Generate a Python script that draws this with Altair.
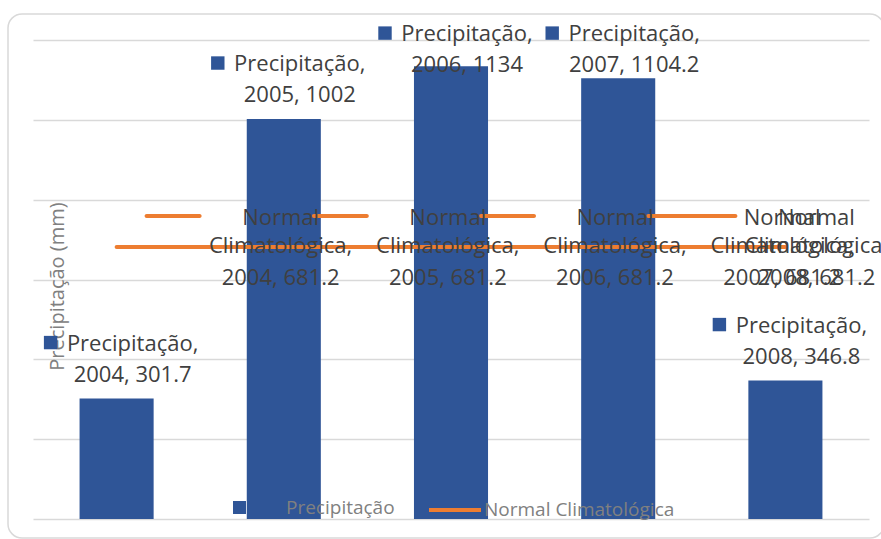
import altair as alt
import pandas as pd

# --- data -------------------------------------------------------------
anos = [2004, 2005, 2006, 2007, 2008]
precipitacao = [301.7, 1002, 1134, 1104.2, 346.8]
normal_climatologica = [681.2, 681.2, 681.2, 681.2, 681.2]
series = ["Precipitação", "Normal Climatológica"]
y_ticks = [0, 200, 400, 600, 800, 1000, 1200]

# --- style ------------------------------------------------------------
BLUE = "#2F5597"
ORANGE = "#ED7D31"
TEXT = "#404040"
MUTED = "#808080"
GRID = "#D9D9D9"
FONT = "Open Sans"
LABEL_SIZE = 22
# labels of very tall bars are kept inside the chart area
LABEL_CEILING = 1077

ultimo = str(anos[-1])
anos_txt = [str(a) for a in anos]

prec_df = pd.DataFrame({
    "ano": anos_txt,
    "valor": precipitacao,
    "serie": series[0],
})
prec_df["linha1"] = prec_df["serie"] + ","
prec_df["linha2"] = [f"{a}, {v:g}" for a, v in zip(anos, precipitacao)]

nome1, nome2 = series[1].split(" ", 1)
norm_df = pd.DataFrame({
    "ano": anos_txt,
    "valor": normal_climatologica,
    "serie": series[1],
})
norm_df["linha1"] = nome1
norm_df["linha2"] = nome2 + ","
norm_df["linha3"] = [f"{a}, {v:g}" for a, v in zip(anos, normal_climatologica)]

x_enc = alt.X(
    "ano:N",
    sort=anos_txt,
    scale=alt.Scale(paddingInner=0.557, paddingOuter=0.2785),
    axis=None,
)
y_axis = alt.Axis(
    values=y_ticks,
    labels=False,
    ticks=False,
    domain=False,
    grid=True,
    title="Precipitação (mm)",
    titleFont=FONT,
    titleFontSize=20,
    titleFontWeight="normal",
    titleColor=MUTED,
    titleAngle=270,
    titleX=24,
    titleY=246,
    titleAlign="center",
    titleBaseline="middle",
)
y_scale = alt.Scale(domain=[0, 1200], nice=False, zero=True)


def y_of(field):
    return alt.Y(f"{field}:Q", scale=y_scale, axis=y_axis)


# rounded outer frame of the chart
frame = alt.Chart(pd.DataFrame({"moldura": [0]})).mark_rect(
    fill="white", fillOpacity=0, stroke=GRID, strokeWidth=1.5, cornerRadius=14
).encode(
    x=alt.value(-25), x2=alt.value(851), y=alt.value(-26), y2=alt.value(498)
)

prec = alt.Chart(prec_df)
norm = alt.Chart(norm_df)

legend_text = dict(labelFont=FONT, labelFontSize=19, labelColor=MUTED,
                   labelLimit=400, padding=0, title=None, orient="none")

bars = prec.mark_bar().encode(
    x=x_enc,
    y=y_of("valor"),
    color=alt.Color(
        "serie:N",
        scale=alt.Scale(domain=[series[0]], range=[BLUE]),
        legend=alt.Legend(
            legendX=197, legendY=458,
            symbolType="square", symbolSize=169, symbolOpacity=1,
            labelOffset=37, **legend_text,
        ),
    ),
)

line = norm.mark_line(strokeWidth=4, strokeCap="round").encode(
    x=x_enc,
    y=y_of("valor"),
    color=alt.Color(
        "serie:N",
        scale=alt.Scale(domain=[series[1]], range=[ORANGE]),
        legend=alt.Legend(
            legendX=394, legendY=442,
            symbolType="stroke", symbolSize=2704, symbolStrokeWidth=4,
            labelOffset=1, **legend_text,
        ),
    ),
)

# data labels of the bars: legend key + "series," / "year, value"
prec_lbl = prec.transform_calculate(ancora=f"min(datum.valor, {LABEL_CEILING})")
bar_keys = prec_lbl.mark_square(
    size=180, filled=True, opacity=1, color=BLUE, xOffset=-66, yOffset=-56
).encode(x=x_enc, y=y_of("ancora"))
txt = dict(font=FONT, fontSize=LABEL_SIZE, color=TEXT, align="center", baseline="middle")
bar_l1 = prec_lbl.mark_text(dx=16, dy=-55, **txt).encode(
    x=x_enc, y=y_of("ancora"), text="linha1:N"
)
bar_l2 = prec_lbl.mark_text(dx=16, dy=-24, **txt).encode(
    x=x_enc, y=y_of("ancora"), text="linha2:N"
)


# data labels of the climatological normal (the last one is pushed back inside)
def normal_labels(chart, key_dx, text_dx):
    key = chart.mark_tick(
        size=57, thickness=4, cornerRadius=2, opacity=1, color=ORANGE,
        xOffset=key_dx, yOffset=-31,
    ).encode(x=x_enc, y=y_of("valor"))
    l1 = chart.mark_text(dx=text_dx, dy=-29, **txt).encode(
        x=x_enc, y=y_of("valor"), text="linha1:N")
    l2 = chart.mark_text(dx=text_dx, dy=-1, **txt).encode(
        x=x_enc, y=y_of("valor"), text="linha2:N")
    l3 = chart.mark_text(dx=text_dx, dy=31, **txt).encode(
        x=x_enc, y=y_of("valor"), text="linha3:N")
    return [key, l1, l2, l3]


norm_main = norm.transform_filter(alt.datum.ano != ultimo)
norm_last = norm.transform_filter(alt.datum.ano == ultimo)

chart = alt.layer(
    frame, bars, line, bar_keys, bar_l1, bar_l2,
    *normal_labels(norm_main, 56.5, 164),
    *normal_labels(norm_last, -76.5, 31),
).resolve_scale(
    color="independent"
).properties(
    width=836,
    height=479,
    padding={"left": 33, "top": 40, "right": 12, "bottom": 20},
    autosize=alt.AutoSizeParams(type="none"),
    background="white",
).configure_view(
    stroke=None
).configure_axis(
    gridColor=GRID, gridWidth=1.5
)

chart.save("out.html", embed_options={"renderer": "svg", "actions": False})
